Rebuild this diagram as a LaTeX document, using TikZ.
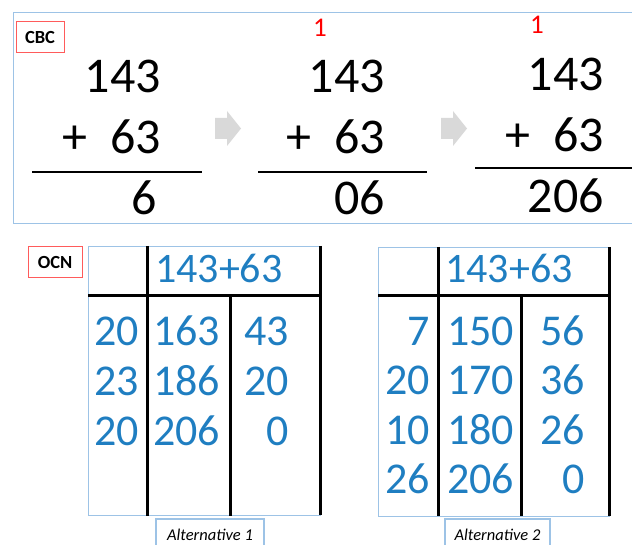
\documentclass[tikz,border=0pt]{standalone}
\usepackage{fontspec}
\setmainfont{Carlito}
\usepackage{xcolor}
\definecolor{numblue}{HTML}{1F7EC1}
\definecolor{panelblue}{HTML}{9DC3E6}
\definecolor{tagred}{HTML}{FF5B5B}
\definecolor{arrowgray}{HTML}{D9D9D9}

\begin{document}
\begin{tikzpicture}[x=1pt, y=-1pt,
    digits/.style={font=\fontsize{50}{50}\selectfont, inner sep=0pt},
    carry/.style={font=\fontsize{27}{27}\selectfont, text=red, inner sep=0pt},
    tabhead/.style={font=\fontsize{42}{42}\selectfont, text=numblue, inner sep=0pt},
    tabnum/.style={font=\fontsize{44}{44}\selectfont, text=numblue, inner sep=0pt},
    tag/.style={rectangle, draw=tagred, line width=1pt, font=\fontsize{18.5}{18.5}\selectfont\bfseries, minimum height=31pt},
    altbox/.style={rectangle, draw=panelblue, line width=1.3pt, fill=white, font=\fontsize{16.5}{16.5}\selectfont\itshape, minimum height=31pt},
    frame/.style={draw=panelblue, line width=0.8pt},
    rule/.style={line width=2.8pt},
    grid/.style={line width=3pt}
]
\useasboundingbox (0,0) rectangle (632,545);

% CBC panel
\draw[frame] (13,12) rectangle (645,223);
\node[tag, minimum width=48pt] (cbc) at (40,37.5) {CBC};

% Step 1
\node[digits, anchor=base east] (top1) at (161,93) {143};
\node[digits, anchor=base east] (add1) at (161,154) {+\hspace{0.45em}63};
\draw[rule] (32,172) -- (202,172);
\node[digits, anchor=base east] (res1) at (157,215) {6};

% Step 2
\node[carry, anchor=base] (carry2) at (320,37) {1};
\node[digits, anchor=base east] (top2) at (385,93) {143};
\node[digits, anchor=base east] (add2) at (385,154) {+\hspace{0.45em}63};
\draw[rule] (258,172) -- (427,172);
\node[digits, anchor=base east] (res2) at (385,215) {06};

% Step 3
\node[carry, anchor=base] (carry3) at (537,34) {1};
\node[digits, anchor=base east] (top3) at (604,91) {143};
\node[digits, anchor=base east] (add3) at (604,152) {+\hspace{0.45em}63};
\draw[rule] (475,168) -- (645,168);
\node[digits, anchor=base east] (res3) at (604,213) {206};

% Gray step arrows
\fill[arrowgray] (215,118) -- (227,118) -- (227,111) -- (241,128.5) -- (227,146) -- (227,139) -- (215,139) -- cycle;
\fill[arrowgray] (441,118) -- (453,118) -- (453,111) -- (467,128.5) -- (453,146) -- (453,139) -- (441,139) -- cycle;

% OCN tag
\node[tag, minimum width=54pt] (ocn) at (55,262) {OCN};

% Alternative 1 table
\draw[frame] (88,246) rectangle (320,515);
\draw[grid] (147,246) -- (147,516);
\draw[grid] (320,246) -- (320,515);
\draw[grid] (88,296) -- (320,296);
\draw[grid] (230,296) -- (230,516);
\node[tabhead, anchor=base west] (head1) at (155,283) {143+63};
\node[tabnum, anchor=base east] (p11) at (139,345) {20};
\node[tabnum, anchor=base west] (s11) at (153,345) {163};
\node[tabnum, anchor=base east] (d11) at (289,345) {43};
\node[tabnum, anchor=base east] (p12) at (139,395) {23};
\node[tabnum, anchor=base west] (s12) at (153,395) {186};
\node[tabnum, anchor=base east] (d12) at (289,395) {20};
\node[tabnum, anchor=base east] (p13) at (139,445) {20};
\node[tabnum, anchor=base west] (s13) at (153,445) {206};
\node[tabnum, anchor=base east] (d13) at (289,445) {0};
\node[altbox, minimum width=108pt] (alt1) at (210,534.5) {Alternative 1};

% Alternative 2 table
\draw[frame] (378,247) rectangle (609,516);
\draw[grid] (438,247) -- (438,516);
\draw[grid] (609,247) -- (609,516);
\draw[grid] (378,296) -- (609,296);
\draw[grid] (521,296) -- (521,516);
\node[tabhead, anchor=base west] (head2) at (445,283) {143+63};
\node[tabnum, anchor=base east] (p21) at (430,345) {7};
\node[tabnum, anchor=base west] (s21) at (447,345) {150};
\node[tabnum, anchor=base east] (d21) at (585,345) {56};
\node[tabnum, anchor=base east] (p22) at (430,394) {20};
\node[tabnum, anchor=base west] (s22) at (447,394) {170};
\node[tabnum, anchor=base east] (d22) at (585,394) {36};
\node[tabnum, anchor=base east] (p23) at (430,444) {10};
\node[tabnum, anchor=base west] (s23) at (447,444) {180};
\node[tabnum, anchor=base east] (d23) at (585,444) {26};
\node[tabnum, anchor=base east] (p24) at (430,493) {26};
\node[tabnum, anchor=base west] (s24) at (447,493) {206};
\node[tabnum, anchor=base east] (d24) at (585,493) {0};
\node[altbox, minimum width=105pt] (alt2) at (497.5,534.5) {Alternative 2};

\end{tikzpicture}
\end{document}
